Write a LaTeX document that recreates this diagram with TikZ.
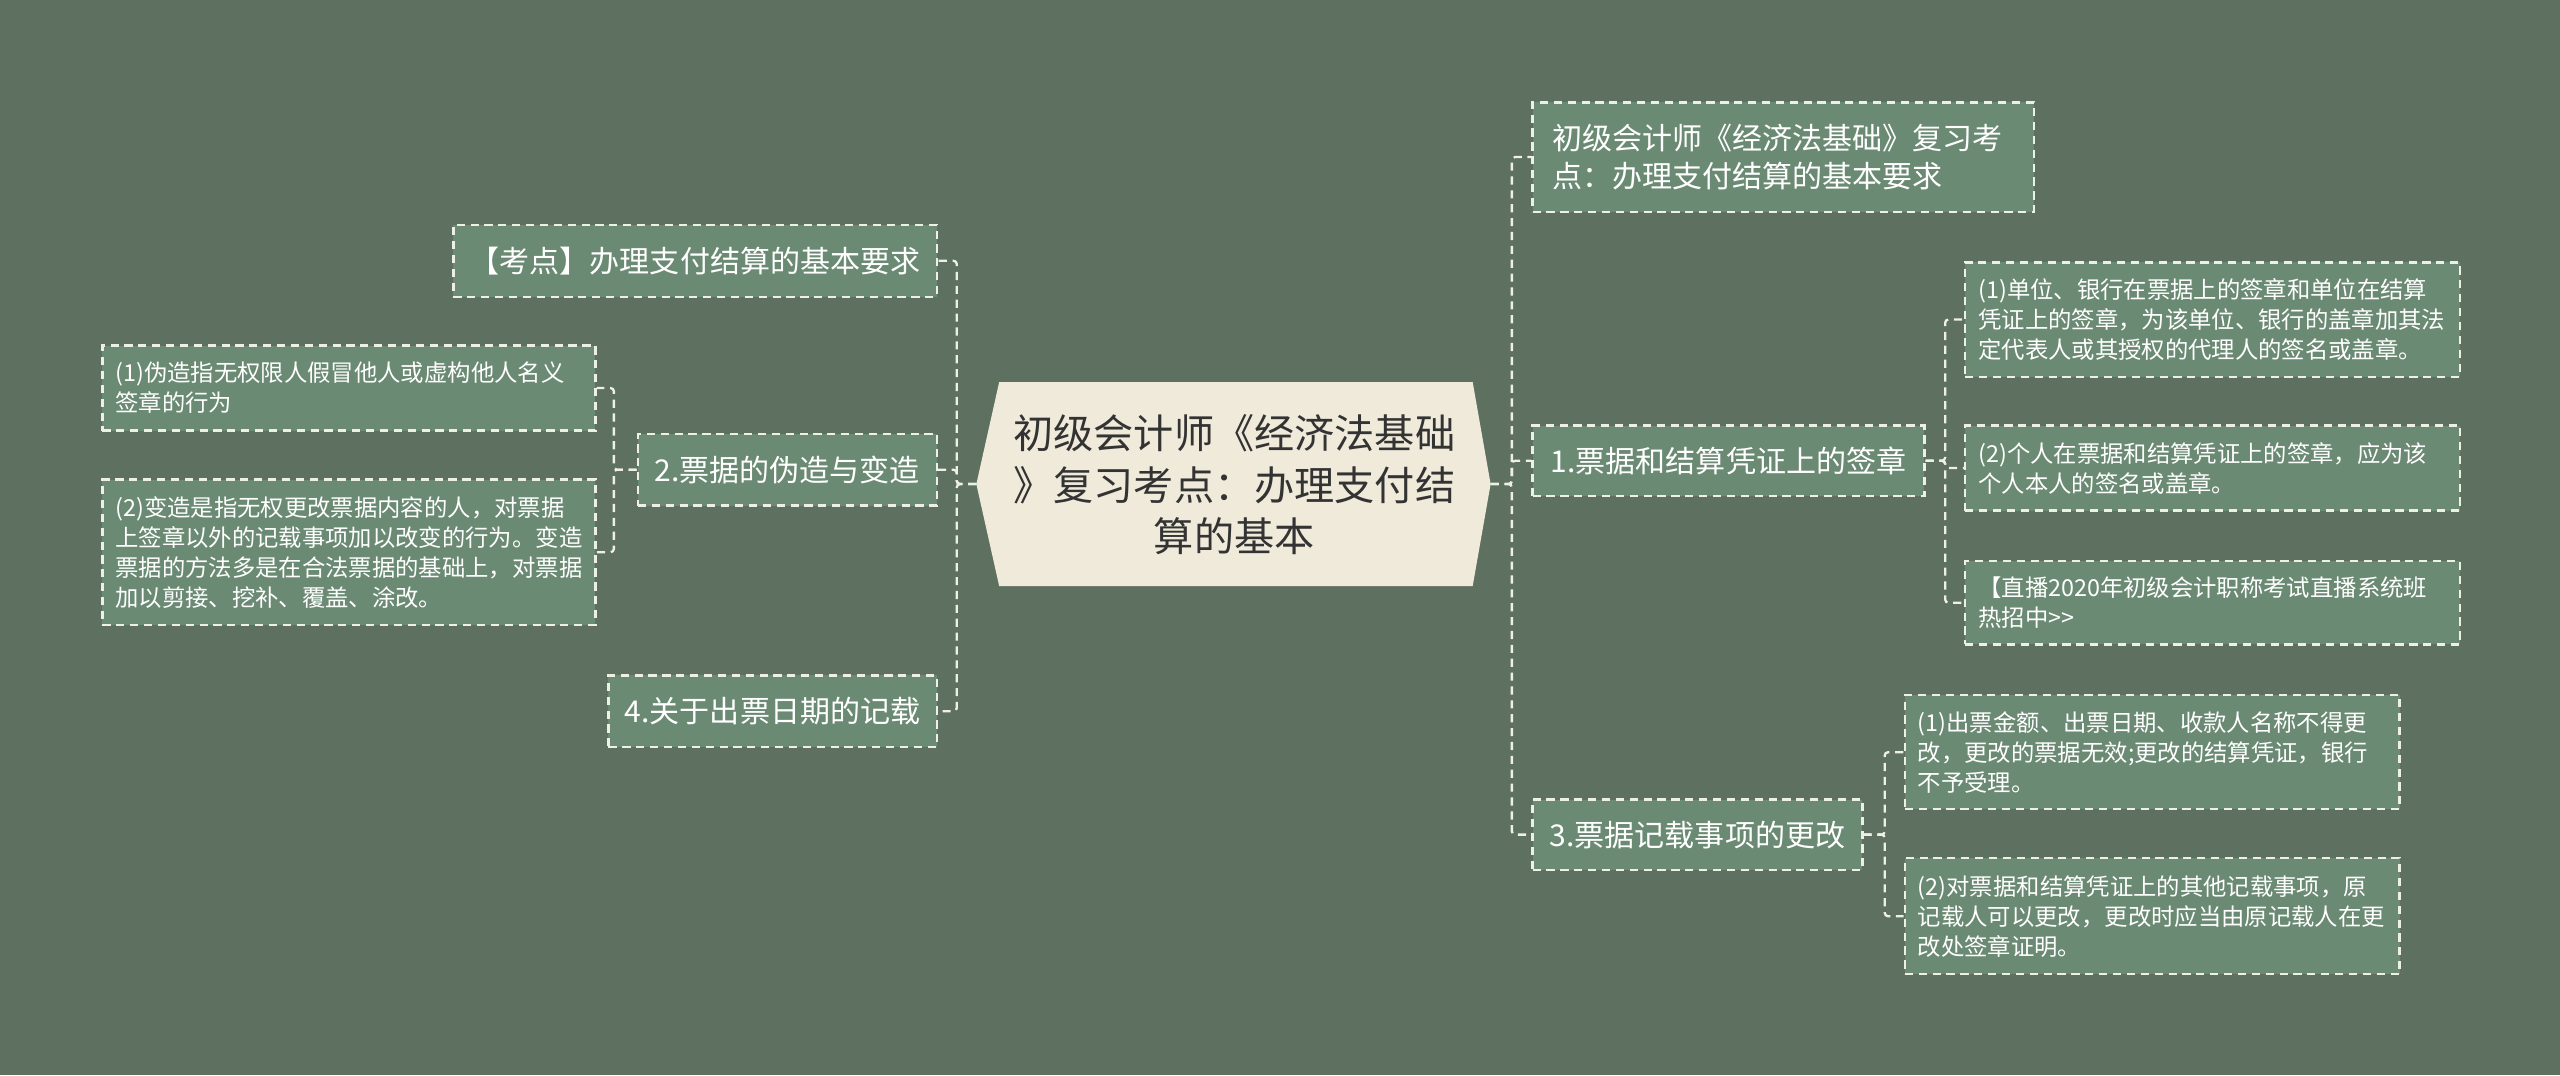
\documentclass[tikz,border=0pt]{standalone}
\usepackage{fontspec}
\setmainfont{Noto Sans CJK SC}
\usepackage{xcolor}
\usetikzlibrary{calc}
\definecolor{bgGreen}{HTML}{5E705F}
\definecolor{boxGreen}{HTML}{6B8A73}
\definecolor{rootCream}{HTML}{EFEADA}
\definecolor{dashLine}{HTML}{EEF0E6}
\definecolor{rootText}{HTML}{333333}
\tikzset{
  link/.style={draw=dashLine, line width=1.4pt, dash pattern=on 5pt off 3.5pt, rounded corners=2pt},
  topic/.style={draw=dashLine, line width=1.4pt, dash pattern=on 5pt off 3.5pt, fill=boxGreen,
    text=white, anchor=north west, inner xsep=8pt, inner ysep=0pt, align=center,
    font=\fontsize{18.4}{23}\selectfont},
  leaf/.style={topic, align=left, font=\fontsize{14.3}{18.4}\selectfont},
  roottext/.style={text=rootText, align=center, font=\fontsize{24.6}{31.5}\selectfont}
}

\begin{document}
\begin{tikzpicture}[x=1pt, y=-1pt]
    \useasboundingbox (0,0) rectangle (1568,658.44);
    \fill[bgGreen] (0,0) rectangle (1568,658.44);

    % root
    \coordinate (rootL) at (598,296.5);
    \coordinate (rootR) at (913,296.5);
    \fill[rootCream] (rootL) -- (612,234) -- (902,234) -- (rootR) -- (902,359) -- (612,359) -- cycle;
    \node[roottext] (root) at (756,297) {初级会计师《经济法基础\\》复习考点：办理支付结\\算的基本};

    % right side
    \node[topic, align=left, inner xsep=12pt, text width=283pt, minimum height=67pt] (r1) at (938,62)
      {初级会计师《经济法基础》复习考\\点：办理支付结算的基本要求};
    \node[topic, text width=224pt, minimum height=43pt] (r2) at (938,260) {1.票据和结算凭证上的签章};
    \node[topic, text width=186pt, minimum height=43pt] (r3) at (938,489) {3.票据记载事项的更改};

    \node[leaf, text width=287pt, minimum height=70pt] (r2a) at (1203,160)
      {(1)单位、银行在票据上的签章和单位在结算\\凭证上的签章，为该单位、银行的盖章加其法\\定代表人或其授权的代理人的签名或盖章。};
    \node[leaf, text width=287pt, minimum height=52pt] (r2b) at (1203,260)
      {(2)个人在票据和结算凭证上的签章，应为该\\个人本人的签名或盖章。};
    \node[leaf, text width=287pt, minimum height=51pt] (r2c) at (1203,343)
      {【直播2020年初级会计职称考试直播系统班\\热招中>{}>};

    \node[leaf, text width=287pt, minimum height=70pt] (r3a) at (1166,425)
      {(1)出票金额、出票日期、收款人名称不得更\\改，更改的票据无效;更改的结算凭证，银行\\不予受理。};
    \node[leaf, text width=287pt, minimum height=71pt] (r3b) at (1166,525)
      {(2)对票据和结算凭证上的其他记载事项，原\\记载人可以更改，更改时应当由原记载人在更\\改处签章证明。};

    % left side
    \node[topic, text width=280pt, minimum height=44pt] (l1) at (277,137) {【考点】办理支付结算的基本要求};
    \node[topic, text width=167pt, minimum height=44pt] (l2) at (390,265) {2.票据的伪造与变造};
    \node[topic, text width=185pt, minimum height=44pt] (l3) at (372,413) {4.关于出票日期的记载};

    \node[leaf, text width=286pt, minimum height=52pt] (l2a) at (62,211)
      {(1)伪造指无权限人假冒他人或虚构他人名义\\签章的行为};
    \node[leaf, text width=286pt, minimum height=89pt] (l2b) at (62,293)
      {(2)变造是指无权更改票据内容的人，对票据\\上签章以外的记载事项加以改变的行为。变造\\票据的方法多是在合法票据的基础上，对票据\\加以剪接、挖补、覆盖、涂改。};

    % connectors
    \foreach \kid in {r1,r2,r3}
      \draw[link] (rootR) -- ++(13,0) |- (\kid.west);
    \foreach \kid in {l1,l2,l3}
      \draw[link] (rootL) -- ++(-12,0) |- (\kid.east);
    \foreach \kid in {r2a,r2b,r2c}
      \draw[link] (r2.east) -- ++(12,0) |- (\kid.west);
    \foreach \kid in {r3a,r3b}
      \draw[link] (r3.east) -- ++(13,0) |- (\kid.west);
    \foreach \kid in {l2a,l2b}
      \draw[link] (l2.west) -- ++(-14,0) |- (\kid.east);
\end{tikzpicture}
\end{document}
